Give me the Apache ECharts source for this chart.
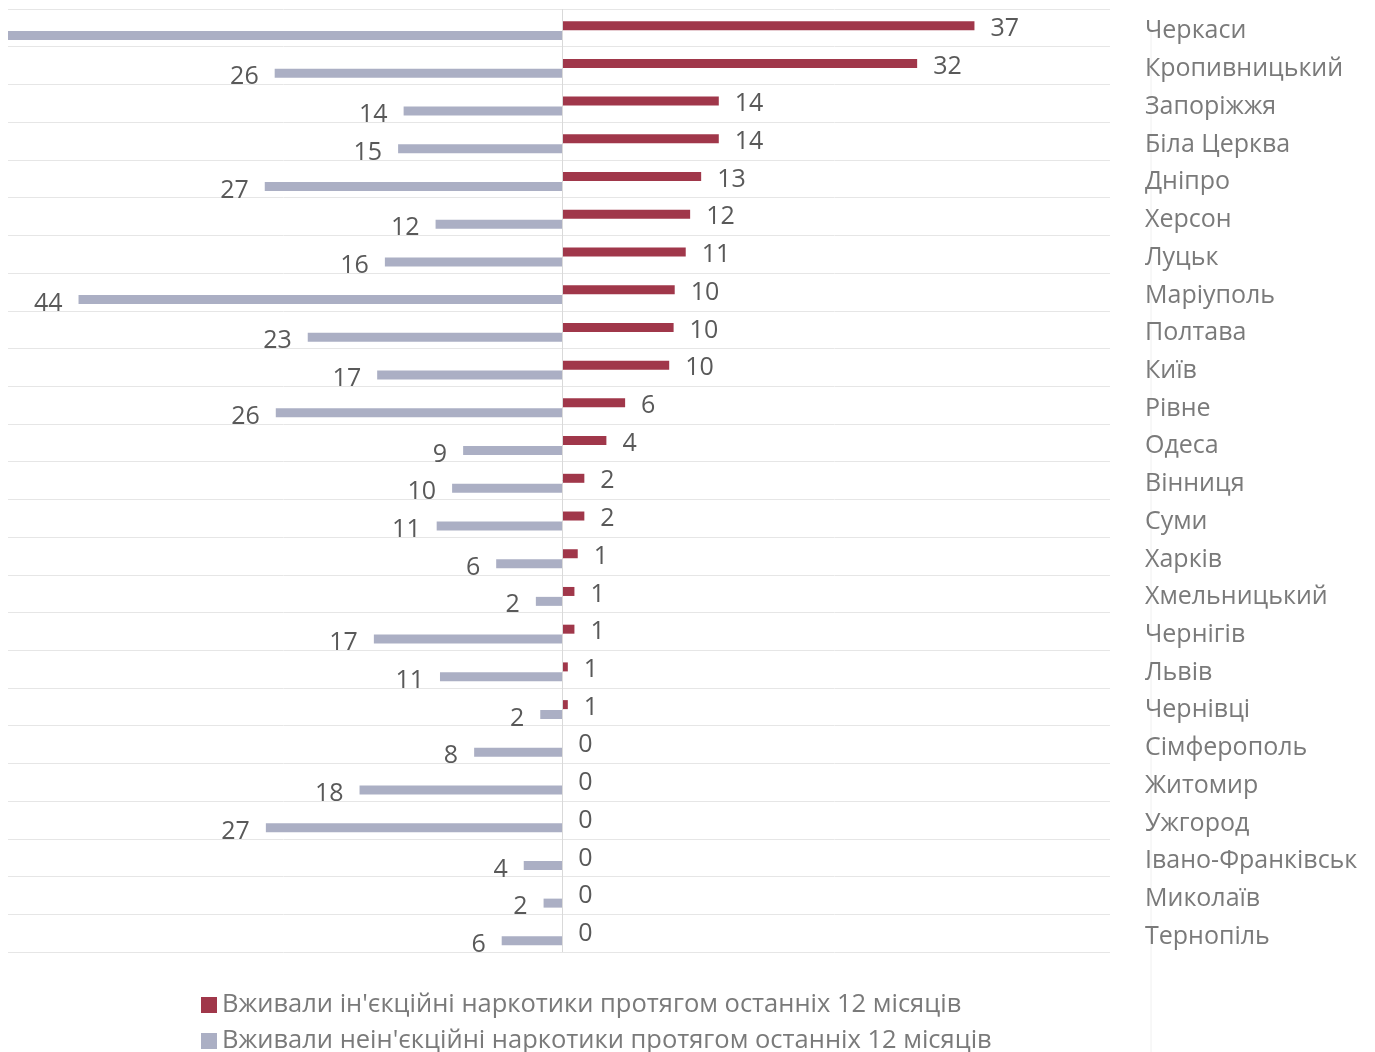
<!DOCTYPE html>
<html>
<head>
<meta charset="utf-8">
<script src="https://cdn.jsdelivr.net/npm/echarts@6/dist/echarts.min.js"></script>
<style>
html,body{margin:0;padding:0;background:#fff;}
#c{width:1375px;height:1052px;}
</style>
</head>
<body>
<div id="c"></div>
<script>
const categories = ['Черкаси','Кропивницький','Запоріжжя','Біла Церква','Дніпро','Херсон','Луцьк','Маріуполь','Полтава','Київ','Рівне','Одеса','Вінниця','Суми','Харків','Хмельницький','Чернігів','Львів','Чернівці','Сімферополь','Житомир','Ужгород','Івано-Франківськ','Миколаїв','Тернопіль'];
const injecting = [37.4,32.2,14.2,14.2,12.6,11.6,11.2,10.2,10.1,9.7,5.7,4.0,2.0,2.0,1.4,1.1,1.1,0.5,0.5,0,0,0,0,0,0];
const nonInjecting = [52,26.1,14.4,14.9,27.0,11.5,16.1,43.9,23.1,16.8,26.0,9.0,10.0,11.4,6.0,2.4,17.1,11.1,2.0,8.0,18.4,26.9,3.5,1.7,5.5];
const seriesNames = ['Вживали ін\'єкційні наркотики протягом останніх 12 місяців','Вживали неін\'єкційні наркотики протягом останніх 12 місяців'];
const hiddenLabels = ['Черкаси'];

const FONT = 'Open Sans';
const chart = echarts.init(document.getElementById('c'));
const fmt = p => String(Math.round(Math.abs(p.value)));
const legendText = {color: '#7a7a7a', fontSize: 25.5, fontFamily: FONT};

chart.setOption({
  animation: false,
  textStyle: {fontFamily: FONT},
  grid: {left: 8, right: 265, top: 9, bottom: 100, containLabel: false},
  xAxis: {
    type: 'value', min: -50.3, max: 49.7,
    axisLine: {show: false}, axisTick: {show: false}, axisLabel: {show: false},
    splitLine: {show: false}
  },
  yAxis: {
    type: 'category', data: categories, inverse: true, position: 'right',
    axisLine: {show: false}, axisTick: {show: false},
    axisLabel: {
      margin: 35, align: 'left', color: '#7a7a7a', fontSize: 25, fontFamily: FONT,
      formatter: v => '{c|' + v + '}',
      rich: {c: {color: '#7a7a7a', fontSize: 25, fontFamily: FONT, padding: [7, 0, 0, 0]}}
    },
    splitLine: {show: true, lineStyle: {color: '#e6e6e6', width: 1}}
  },
  legend: [
    {left: 196, top: 987, itemWidth: 16, itemHeight: 16, icon: 'rect', textStyle: legendText, data: [seriesNames[0]]},
    {left: 196, top: 1023, itemWidth: 16, itemHeight: 16, icon: 'rect', textStyle: legendText, data: [seriesNames[1]]}
  ],
  graphic: [{
    type: 'line', shape: {x1: 1151, y1: 30, x2: 1151, y2: 1052},
    style: {stroke: '#f0f0f0', lineWidth: 1}, silent: true
  }],
  series: [
    {
      name: 'spacer', type: 'bar', data: categories.map(() => 0),
      barWidth: 5, barGap: '10%', silent: true, itemStyle: {color: 'rgba(0,0,0,0)'}
    },
    {
      name: seriesNames[0], type: 'bar', data: injecting,
      barWidth: 9, barGap: '10%',
      itemStyle: {color: '#a0374a'},
      label: {show: true, position: 'right', distance: 16, offset: [0, 3], color: '#595959', fontSize: 25, fontFamily: FONT, formatter: fmt},
      markLine: {
        silent: true, symbol: 'none', label: {show: false},
        lineStyle: {color: '#d9d9d9', width: 1, type: 'solid'},
        data: [{xAxis: 0}]
      }
    },
    {
      name: seriesNames[1], type: 'bar',
      data: nonInjecting.map((v, i) => hiddenLabels.includes(categories[i]) ? {value: -v, label: {show: false}} : -v),
      barWidth: 9, barGap: '10%',
      itemStyle: {color: '#abafc4'},
      label: {show: true, position: 'left', distance: 16, offset: [0, 4], color: '#595959', fontSize: 25, fontFamily: FONT, formatter: fmt}
    }
  ]
});
</script>
</body>
</html>
